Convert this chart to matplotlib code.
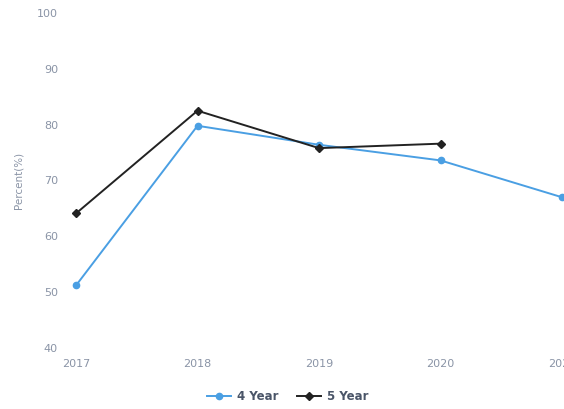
import matplotlib.pyplot as plt

# data
years = [2017, 2018, 2019, 2020, 2021]
four_year = [51.2, 79.8, 76.4, 73.6, 67.0]
five_year_years = [2017, 2018, 2019, 2020]
five_year = [64.1, 82.5, 75.8, 76.6]
y_ticks = [40, 50, 60, 70, 80, 90, 100]

blue = "#4a9fe3"
dark = "#222222"
tick_col = "#8a94a6"

fig = plt.figure(figsize=(5.64, 4.09), dpi=100)
W, H = 564, 409
# 2017 sits at x=76 px, 2021 at x=562 px; 40 at y=348 px, 100 at y=13 px
ax = fig.add_axes([76 / W, (H - 348) / H, 486 / W, 335 / H])

ax.plot(years, four_year, color=blue, lw=1.4, marker="o", ms=4.5,
        label="4 Year", clip_on=False, zorder=3)
ax.plot(five_year_years, five_year, color=dark, lw=1.4, marker="D", ms=4,
        label="5 Year", clip_on=False, zorder=4)

ax.set_xlim(2017, 2021)
ax.set_ylim(40, 100)
ax.set_xticks(years)
ax.set_yticks(y_ticks)
ax.tick_params(axis="both", length=0, labelsize=8, colors=tick_col)
ax.tick_params(axis="y", pad=13)
ax.tick_params(axis="x", pad=8)
for s in ax.spines.values():
    s.set_visible(False)

ax.set_ylabel("Percent(%)", fontsize=7.5, color=tick_col, labelpad=10)

leg = fig.legend(loc="lower center", bbox_to_anchor=(0.51, -0.012), ncol=2,
                 frameon=False, fontsize=8.5, handlelength=2.0,
                 columnspacing=1.6, handletextpad=0.5)
for t in leg.get_texts():
    t.set_color("#4a5568")
    t.set_fontweight("bold")

fig.savefig("out.png", dpi=100)
